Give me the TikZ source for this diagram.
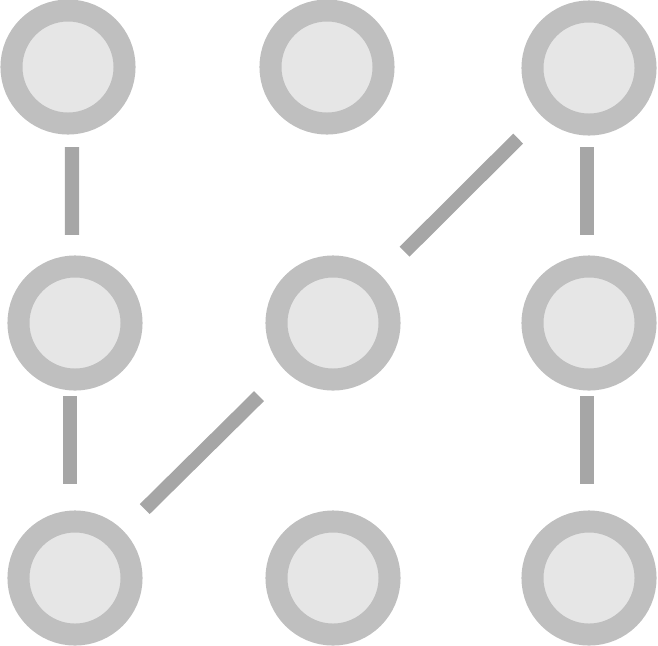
\documentclass[tikz,border=0pt]{standalone}
\definecolor{ringgray}{HTML}{BFBFBF}
\definecolor{innergray}{HTML}{E6E6E6}
\definecolor{linkgray}{HTML}{A6A6A6}

\begin{document}
\begin{tikzpicture}[x=0.01cm, y=-0.01cm]
\tikzset{dot/.style={circle, draw=ringgray, fill=innergray, line width=0.22cm, minimum size=1.13cm, inner sep=0pt},
         link/.style={draw=linkgray, line width=0.14cm}}
\useasboundingbox (0,0) rectangle (658,645);
\node[dot] (a) at (68,67) {};
\node[dot] (b) at (327,67) {};
\node[dot] (c) at (589,68) {};
\node[dot] (d) at (75,323) {};
\node[dot] (e) at (333,323) {};
\node[dot] (f) at (589,323) {};
\node[dot] (g) at (75,578) {};
\node[dot] (h) at (333,578) {};
\node[dot] (i) at (589,578) {};
\draw[link, shorten <=0.125cm, shorten >=0.205cm] ([xshift=0.04cm]a.south) -- ([xshift=-0.03cm]d.north);
\draw[link, shorten <=0.055cm, shorten >=0.265cm] ([xshift=-0.05cm]d.south) -- ([xshift=-0.05cm]g.north);
\draw[link, shorten <=0.115cm, shorten >=0.205cm] ([xshift=-0.02cm]c.south) -- ([xshift=-0.02cm]f.north);
\draw[link, shorten <=0.055cm, shorten >=0.265cm] ([xshift=-0.02cm]f.south) -- ([xshift=-0.02cm]i.north);
\draw[link, shorten <=0.325cm, shorten >=0.335cm] (c) -- (e);
\draw[link, shorten <=0.365cm, shorten >=0.305cm] (e) -- (g);
\end{tikzpicture}
\end{document}
